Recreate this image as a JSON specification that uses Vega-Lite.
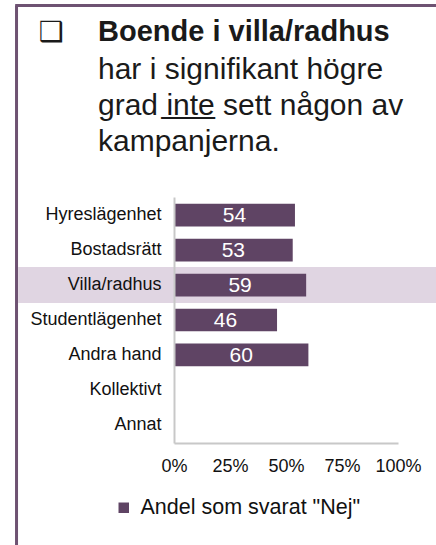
{
  "$schema": "https://vega.github.io/schema/vega-lite/v6.json",
  "width": 224,
  "height": 246,
  "autosize": {"type": "none"},
  "padding": {"left": 174, "top": 197, "right": 38, "bottom": 102},
  "background": "white",
  "config": {"view": {"stroke": null}, "font": "Liberation Sans"},
  "title": {
    "text": "Boende i villa/radhus",
    "subtitle": [
      "har i signifikant högre",
      "grad i̲n̲t̲e̲ sett någon av",
      "kampanjerna."
    ],
    "anchor": "start",
    "frame": "group",
    "dx": -76,
    "offset": -153,
    "font": "Liberation Sans",
    "fontSize": 29,
    "fontWeight": "bold",
    "color": "#1a1a1a",
    "subtitleFont": "Liberation Sans",
    "subtitleFontSize": 30,
    "subtitleColor": "#1a1a1a",
    "subtitleLineHeight": 36,
    "subtitlePadding": 8
  },
  "layer": [
    {
      "data": {"values": [{}]},
      "layer": [
        {
          "mark": {"type": "rule", "color": "#6e5272", "strokeWidth": 3},
          "encoding": {
            "x": {"datum": -70.3, "type": "quantitative", "scale": {"domain": [0, 100], "nice": false}, "axis": null},
            "y": {"datum": 1.778, "type": "quantitative", "scale": {"domain": [0, 1], "nice": false, "zero": false}, "axis": null},
            "y2": {"datum": -0.5}
          }
        },
        {
          "mark": {"type": "rule", "color": "#6e5272", "strokeWidth": 3},
          "encoding": {
            "x": {"datum": -70.9, "type": "quantitative", "axis": null},
            "x2": {"datum": 120},
            "y": {"datum": 1.778, "type": "quantitative", "axis": null}
          }
        },
        {
          "mark": {"type": "text", "text": "❑", "font": "DejaVu Sans", "fontSize": 28, "fontWeight": "bold", "color": "#1a1a1a", "align": "left", "baseline": "middle"},
          "encoding": {
            "x": {"datum": -60.5, "type": "quantitative", "axis": null},
            "y": {"datum": 1.667, "type": "quantitative", "axis": null}
          }
        }
      ]
    },
    {
      "data": {
        "values": [
          {"boende": "Hyreslägenhet", "andel": 54, "serie": "Andel som svarat \"Nej\""},
          {"boende": "Bostadsrätt", "andel": 53, "serie": "Andel som svarat \"Nej\""},
          {"boende": "Villa/radhus", "andel": 59, "serie": "Andel som svarat \"Nej\""},
          {"boende": "Studentlägenhet", "andel": 46, "serie": "Andel som svarat \"Nej\""},
          {"boende": "Andra hand", "andel": 60, "serie": "Andel som svarat \"Nej\""},
          {"boende": "Kollektivt", "andel": null, "serie": "Andel som svarat \"Nej\""},
          {"boende": "Annat", "andel": null, "serie": "Andel som svarat \"Nej\""}
        ]
      },
      "encoding": {
        "y": {
          "field": "boende",
          "type": "nominal",
          "sort": null,
          "scale": {
            "domain": ["Hyreslägenhet", "Bostadsrätt", "Villa/radhus", "Studentlägenhet", "Andra hand", "Kollektivt", "Annat"],
            "paddingInner": 0.35,
            "paddingOuter": 0.19
          },
          "axis": {
            "title": null,
            "ticks": false,
            "labelFontSize": 18,
            "labelColor": "#111111",
            "labelPadding": 13,
            "labelLimit": 200,
            "domainColor": "#c8c8c8",
            "domainWidth": 2
          }
        }
      },
      "layer": [
        {
          "transform": [{"filter": "datum.boende === 'Villa/radhus'"}],
          "mark": {"type": "rect", "color": "#e0d5e2", "height": {"band": 1.58}},
          "encoding": {
            "x": {"datum": -69.6, "type": "quantitative", "scale": {"domain": [0, 100], "nice": false}, "axis": null},
            "x2": {"datum": 117}
          }
        },
        {
          "mark": {"type": "bar", "color": "#5f4464"},
          "encoding": {
            "x": {
              "field": "andel",
              "type": "quantitative",
              "scale": {"domain": [0, 100], "nice": false},
              "axis": {
                "title": null,
                "values": [0, 25, 50, 75, 100],
                "labelExpr": "datum.label + '%'",
                "labelOverlap": false,
                "labelFlush": false,
                "grid": false,
                "ticks": false,
                "labelFontSize": 18,
                "labelColor": "#111111",
                "labelPadding": 14,
                "domainColor": "#c8c8c8",
                "domainWidth": 2
              }
            },
            "color": {
              "field": "serie",
              "type": "nominal",
              "scale": {"range": ["#5f4464"]},
              "legend": {
                "title": null,
                "orient": "none",
                "legendX": -61,
                "legendY": 300,
                "symbolType": "square",
                "symbolSize": 110,
                "symbolStrokeWidth": 0,
                "labelFontSize": 21.5,
                "labelColor": "#111111",
                "labelOffset": 6,
                "labelLimit": 400
              }
            }
          }
        },
        {
          "mark": {"type": "text", "color": "white", "fontSize": 21, "baseline": "middle", "dy": 1},
          "encoding": {
            "x": {"field": "andel", "type": "quantitative", "scale": {"domain": [0, 200], "nice": false}, "axis": null},
            "text": {"field": "andel", "type": "quantitative", "format": "d"}
          }
        }
      ],
      "resolve": {"scale": {"x": "independent"}}
    }
  ],
  "resolve": {"scale": {"y": "independent", "x": "independent"}}
}
